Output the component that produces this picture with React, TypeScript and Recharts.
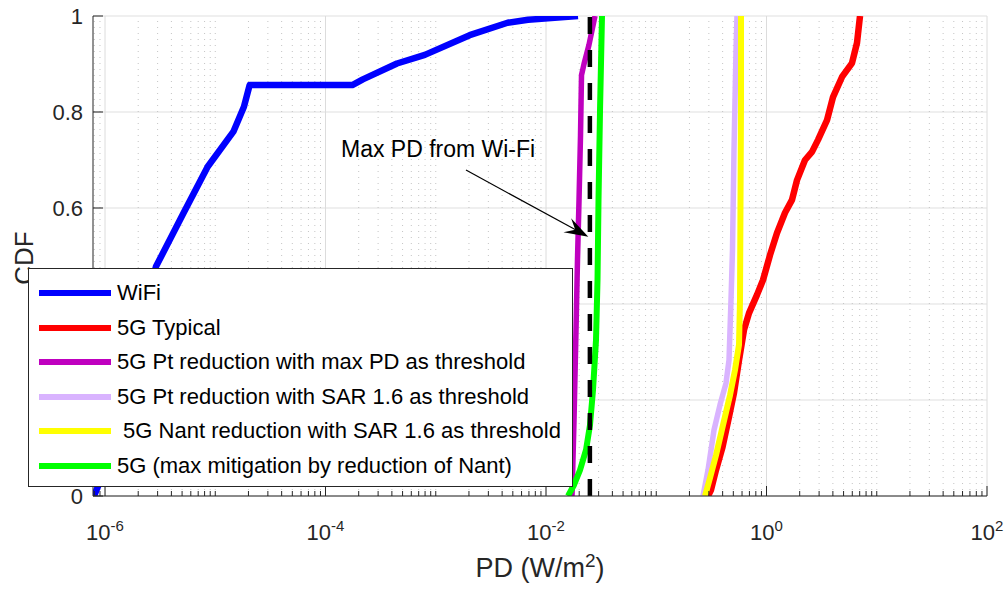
import React from "react";
import {
  LineChart,
  Line,
  XAxis,
  YAxis,
  CartesianGrid,
  ReferenceLine,
  ReferenceDot,
  Legend,
} from "recharts";

const FONT = '"Liberation Sans", Arial, Helvetica, sans-serif';
const AXIS = "#262626";

// series labels & colours (legend order = draw order)
const seriesNames = [
  "WiFi",
  "5G Typical",
  "5G Pt reduction with max PD as threshold",
  "5G Pt reduction with SAR 1.6 as threshold",
  " 5G Nant reduction with SAR 1.6 as threshold",
  "5G (max mitigation by reduction of Nant)",
];
const seriesColors = ["#0000ff", "#ff0000", "#bf00bf", "#d9b3ff", "#ffff00", "#00ff00"];

// CDF curves: PD values (W/m^2) and cumulative probability
const wifiPD = [7.95e-7, 9.0e-7, 1.7e-6, 2.9e-6, 5.14e-6, 8.53e-6, 1.46e-5, 1.82e-5, 2.05e-5, 1.75e-4, 2.18e-4, 4.45e-4, 7.96e-4, 2.03e-3, 4.48e-3, 6.87e-3, 0.0195];
const wifiCDF = [0, 0.03, 0.28, 0.478, 0.589, 0.686, 0.759, 0.811, 0.856, 0.856, 0.868, 0.901, 0.919, 0.96, 0.986, 0.992, 1.0];

const typicalPD = [0.2947, 0.3137, 0.3483, 0.399, 0.457, 0.5072, 0.563, 0.625, 0.6939, 0.8199, 0.9297, 1.076, 1.245, 1.472, 1.703, 1.891, 2.235, 2.586, 2.932, 3.539, 4.01, 4.84, 5.965, 6.62, 7.049];
const typicalCDF = [0, 0.0125, 0.054, 0.102, 0.165, 0.215, 0.283, 0.346, 0.381, 0.419, 0.45, 0.502, 0.548, 0.59, 0.617, 0.658, 0.7, 0.717, 0.742, 0.783, 0.831, 0.873, 0.902, 0.944, 1.0];

const ptMaxPD = [0.01721, 0.01795, 0.01871, 0.0193, 0.01993, 0.02056, 0.02099, 0.02212, 0.02455, 0.02782];
const ptMaxCDF = [0, 0.158, 0.346, 0.492, 0.617, 0.752, 0.877, 0.9, 0.94, 1.0];

const ptSarPD = [0.2655, 0.2947, 0.3341, 0.3787, 0.4292, 0.457, 0.4764, 0.4915, 0.5072, 0.529, 0.54];
const ptSarCDF = [0, 0.054, 0.1375, 0.19, 0.235, 0.283, 0.408, 0.5125, 0.721, 0.929, 1.0];

const nantSarPD = [0.2769, 0.3072, 0.3483, 0.4032, 0.4667, 0.518, 0.563, 0.575, 0.5811, 0.5872, 0.5872];
const nantSarCDF = [0, 0.0375, 0.085, 0.148, 0.21, 0.2625, 0.315, 0.408, 0.617, 0.825, 1.0];

const maxMitPD = [0.01583, 0.01795, 0.02034, 0.02306, 0.02506, 0.02669, 0.02841, 0.02932, 0.02994, 0.0309, 0.0322];
const maxMitCDF = [0, 0.023, 0.054, 0.096, 0.148, 0.221, 0.325, 0.45, 0.617, 0.804, 1.0];

const maxWifiPD = 0.025;

// axes
const xDomain = [7.78e-7, 100];
const majorTicks = [1e-6, 1e-4, 1e-2, 1, 100];
const majorExp = ["-6", "-4", "-2", "0", "2"];
const yTicks = [0, 0.2, 0.4, 0.6, 0.8, 1];
const yTickLabels = ["0", "0.2", "0.4", "0.6", "0.8", "1"];

const decades = [-7, -6, -5, -4, -3, -2, -1, 0, 1];
const mults = [1, 2, 3, 4, 5, 6, 7, 8, 9];
const minorTicks: number[] = [];
decades.forEach((d) =>
  mults.forEach((m) => {
    const v = m * Math.pow(10, d);
    if (v >= xDomain[0] && v < xDomain[1] && !(m === 1 && d % 2 === 0)) minorTicks.push(v);
  })
);
const allXTicks = [...majorTicks, ...minorTicks].sort((a, b) => a - b);

// annotation
const noteText = "Max PD from Wi-Fi";
const notePos = { x: 1.05e-3, y: 0.723 };
const arrowFrom = { x: 1.88e-3, y: 0.679 };
const arrowTo = { x: 0.0242, y: 0.54 };

const toPoints = (xs: number[], ys: number[]) => xs.map((x, i) => ({ x, y: ys[i] }));
const series = [
  toPoints(wifiPD, wifiCDF),
  toPoints(typicalPD, typicalCDF),
  toPoints(ptMaxPD, ptMaxCDF),
  toPoints(ptSarPD, ptSarCDF),
  toPoints(nantSarPD, nantSarCDF),
  toPoints(maxMitPD, maxMitCDF),
];
const widths = [6.5, 6.5, 5.5, 5.5, 6, 6];

const isMajor = (v: number) => majorTicks.some((m) => Math.abs(m - v) / m < 1e-9);

const BottomTick = (props: any) => {
  const { x, y, payload } = props;
  const idx = majorTicks.findIndex((m) => Math.abs(m - payload.value) / m < 1e-9);
  return (
    <g>
      <line x1={x} y1={y} x2={x} y2={y - (idx >= 0 ? 10 : 5)} stroke={AXIS} />
      {idx >= 0 && (
        <text x={x} y={y + 44} textAnchor="middle" fontFamily={FONT} fontSize={22} fill={AXIS}>
          10
          <tspan dy={-9} fontSize={15}>
            {majorExp[idx]}
          </tspan>
        </text>
      )}
    </g>
  );
};

const TopTick = (props: any) => {
  const { x, y, payload } = props;
  return <line x1={x} y1={y} x2={x} y2={y + (isMajor(payload.value) ? 10 : 5)} stroke={AXIS} />;
};

const LeftTick = (props: any) => {
  const { x, y, index } = props;
  return (
    <g>
      <line x1={x} y1={y} x2={x + 10} y2={y} stroke={AXIS} />
      <text x={x - 10} y={y} dy="0.36em" textAnchor="end" fontFamily={FONT} fontSize={22} fill={AXIS}>
        {yTickLabels[index]}
      </text>
    </g>
  );
};

const RightTick = (props: any) => {
  const { x, y } = props;
  return <line x1={x} y1={y} x2={x - 10} y2={y} stroke={AXIS} />;
};

const XLabel = (props: any) => {
  const vb = props.viewBox;
  return (
    <text x={vb.x + vb.width / 2} y={vb.y + 81} textAnchor="middle" fontFamily={FONT} fontSize={27} fill={AXIS}>
      PD (W/m
      <tspan dy={-10} fontSize={19}>2</tspan>
      <tspan dy={10}>)</tspan>
    </text>
  );
};

const YLabel = (props: any) => {
  const vb = props.viewBox;
  const cx = 33;
  const cy = vb.y + vb.height / 2 + 2;
  return (
    <text x={cx} y={cy} textAnchor="middle" fontFamily={FONT} fontSize={26} fill={AXIS} transform={`rotate(-90, ${cx}, ${cy})`}>
      CDF
    </text>
  );
};

const Arrow = (props: any) => {
  const { x1, y1, x2, y2 } = props;
  const ang = Math.atan2(y2 - y1, x2 - x1);
  const L = 24;
  const W = 8;
  const pt = (a: number, b: number) => {
    const px = x2 + a * Math.cos(ang) - b * Math.sin(ang);
    const py = y2 + a * Math.sin(ang) + b * Math.cos(ang);
    return `${px},${py}`;
  };
  return (
    <g>
      <line x1={x1} y1={y1} x2={x2 - 14 * Math.cos(ang)} y2={y2 - 14 * Math.sin(ang)} stroke="#000" strokeWidth={1.2} />
      <polygon points={[pt(0, 0), pt(-L, -W), pt(-L * 0.62, 0), pt(-L, W)].join(" ")} fill="#000" />
    </g>
  );
};

const NoteText = (props: any) => (
  <text x={props.cx} y={props.cy} dy="0.36em" textAnchor="middle" fontFamily={FONT} fontSize={23} fill="#000">
    {noteText}
  </text>
);

const LegendBox = () => (
  <div
    style={{
      boxSizing: "border-box",
      width: 545,
      height: 219,
      border: `1px solid ${AXIS}`,
      background: "#fff",
      paddingTop: 7,
      fontFamily: FONT,
    }}
  >
    {seriesNames.map((n, i) => (
      <div key={n} style={{ display: "flex", alignItems: "center", height: 34.5 }}>
        <div style={{ marginLeft: 10, width: 72, height: 6, background: seriesColors[i] }} />
        <span style={{ marginLeft: 6, fontSize: 22, color: "#000", whiteSpace: "pre", lineHeight: "34px" }}>{n}</span>
      </div>
    ))}
  </div>
);

export default function App() {
  return (
    <div style={{ position: "absolute", left: 0, top: 0, background: "#fff" }}>
      <LineChart width={1008} height={590} margin={{ top: 16, right: 21, bottom: 0, left: 0 }}>
        <CartesianGrid vertical={false} stroke="#dfdfdf" />
        {minorTicks.map((v) => (
          <ReferenceLine key={`mn${v}`} x={v} stroke="#c4c4c4" strokeDasharray="1 5" />
        ))}
        {majorTicks.map((v) => (
          <ReferenceLine key={`mj${v}`} x={v} stroke="#dcdcdc" />
        ))}
        <XAxis
          dataKey="x"
          type="number"
          scale="log"
          domain={xDomain}
          allowDataOverflow
          ticks={allXTicks}
          interval={0}
          tick={<BottomTick />}
          tickLine={false}
          tickSize={0}
          tickMargin={0}
          height={94}
          axisLine={{ stroke: AXIS }}
          label={<XLabel />}
        />
        <XAxis
          xAxisId="top"
          orientation="top"
          type="number"
          scale="log"
          domain={xDomain}
          allowDataOverflow
          ticks={allXTicks}
          interval={0}
          tick={<TopTick />}
          tickLine={false}
          tickSize={0}
          tickMargin={0}
          height={0}
          axisLine={{ stroke: AXIS }}
        />
        <YAxis
          type="number"
          domain={[0, 1]}
          allowDataOverflow
          ticks={yTicks}
          interval={0}
          tick={<LeftTick />}
          tickLine={false}
          tickSize={0}
          tickMargin={0}
          width={93}
          axisLine={{ stroke: AXIS }}
          label={<YLabel />}
        />
        <YAxis
          yAxisId="right"
          orientation="right"
          type="number"
          domain={[0, 1]}
          allowDataOverflow
          ticks={yTicks}
          interval={0}
          tick={<RightTick />}
          tickLine={false}
          tickSize={0}
          tickMargin={0}
          width={0}
          axisLine={{ stroke: AXIS }}
        />
        {series.map((d, i) => (
          <Line
            key={seriesNames[i]}
            data={d}
            dataKey="y"
            name={seriesNames[i]}
            type="linear"
            stroke={seriesColors[i]}
            strokeWidth={widths[i]}
            strokeLinejoin="round"
            dot={false}
            activeDot={false}
            isAnimationActive={false}
          />
        ))}
        <ReferenceLine x={maxWifiPD} stroke="#000" strokeWidth={4.5} strokeDasharray="17 16" />
        <ReferenceLine segment={[arrowFrom, arrowTo]} shape={<Arrow />} ifOverflow="visible" />
        <ReferenceDot x={notePos.x} y={notePos.y} r={0} shape={<NoteText />} ifOverflow="visible" />
        <Legend
          layout="vertical"
          align="center"
          verticalAlign="middle"
          wrapperStyle={{ left: 28, top: 268, width: 545, height: 219 }}
          content={() => <LegendBox />}
        />
      </LineChart>
    </div>
  );
}
